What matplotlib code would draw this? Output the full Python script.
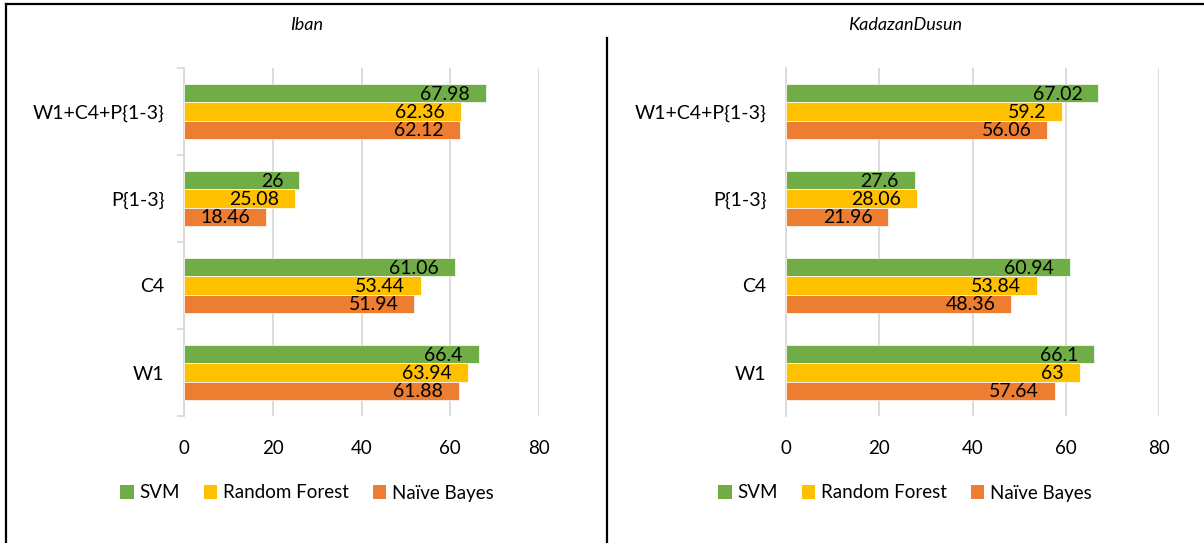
import matplotlib.pyplot as plt
import numpy as np
from matplotlib.patches import Patch
from matplotlib.lines import Line2D

plt.rcParams['font.family'] = ['Lato', 'DejaVu Sans']

categories = ['W1', 'C4', 'P{1-3}', 'W1+C4+P{1-3}']
series = ['SVM', 'Random Forest', 'Naïve Bayes']
colors = ['#70AD47', '#FFC000', '#ED7D31']

# accuracy per feature set, one list per classifier
iban_svm = [66.4, 61.06, 26, 67.98]
iban_rf = [63.94, 53.44, 25.08, 62.36]
iban_nb = [61.88, 51.94, 18.46, 62.12]

kd_svm = [66.1, 60.94, 27.6, 67.02]
kd_rf = [63, 53.84, 28.06, 59.2]
kd_nb = [57.64, 48.36, 21.96, 56.06]

panels = [
    ('Iban', [iban_svm, iban_rf, iban_nb]),
    ('KadazanDusun', [kd_svm, kd_rf, kd_nb]),
]

fig = plt.figure(figsize=(12.04, 5.43), dpi=100)

ax_boxes = [
    [184 / 1204, 1 - 416 / 543, (539 - 184) / 1204, (416 - 68) / 543],
    [786 / 1204, 1 - 416 / 543, (1159 - 786) / 1204, (416 - 68) / 543],
]
title_x = [307 / 1204, 905 / 1204]

y = np.arange(len(categories))
h = 0.207
offsets = [h, 0, -h]

for i, (name, vals) in enumerate(panels):
    ax = fig.add_axes(ax_boxes[i])
    for vals_s, off, c in zip(vals, offsets, colors):
        bars = ax.barh(y + off, vals_s, height=h, color=c,
                       edgecolor='white', linewidth=0.5, zorder=3)
        for b, v in zip(bars, vals_s):
            ax.annotate(f'{v:g}', (b.get_width(), b.get_y() + b.get_height() / 2),
                        xytext=(-16, -1), textcoords='offset pixels',
                        ha='right', va='center', fontsize=14, color='black',
                        zorder=4)
    ax.set_xlim(0, 80)
    ax.set_ylim(-0.5, 3.5)
    ax.set_xticks([0, 20, 40, 60, 80])
    ax.set_yticks(y)
    ax.set_yticklabels(categories)
    ax.tick_params(axis='x', length=0, pad=17, labelsize=13.5)
    ax.tick_params(axis='y', length=0, pad=14, labelsize=14)
    ax.xaxis.grid(True, color='#D9D9D9', linewidth=1.3, zorder=0)
    for s in ['top', 'right', 'bottom']:
        ax.spines[s].set_visible(False)
    ax.spines['left'].set_color('#D9D9D9')
    ax.spines['left'].set_linewidth(1.3)
    if i == 0:
        ax.set_yticks(np.arange(-0.5, 4, 1), minor=True)
        ax.tick_params(axis='y', which='minor', length=5, width=1.3,
                       color='#D9D9D9')
    fig.text(title_x[i], 1 - 25 / 543, name, ha='center', va='center',
             fontsize=13, style='italic')
    handles = [Patch(facecolor=c, label=s) for c, s in zip(colors, series)]
    fig.legend(handles=handles, loc='center', ncol=3, frameon=False,
               bbox_to_anchor=(title_x[i], 1 - 493 / 543), fontsize=13.5,
               handlelength=0.7, handleheight=0.7, handletextpad=0.3,
               columnspacing=1.3)

# frame lines around and between the two panels
lw = 1.6
fig.add_artist(Line2D([6 / 1204, 6 / 1204], [0, 1 - 4 / 543], color='black', lw=lw))
fig.add_artist(Line2D([6 / 1204, 1], [1 - 4 / 543, 1 - 4 / 543], color='black', lw=lw))
fig.add_artist(Line2D([607 / 1204, 607 / 1204], [0, 1 - 38 / 543], color='black', lw=lw))

fig.savefig('out.png', dpi=100)
